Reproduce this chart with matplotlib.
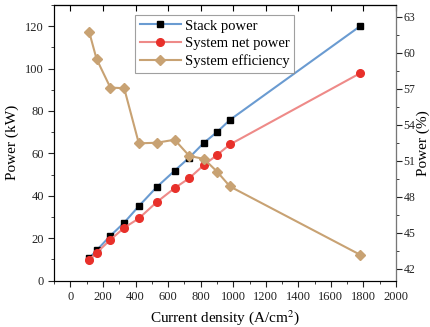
import matplotlib.pyplot as plt
from matplotlib.ticker import MultipleLocator

plt.rcParams['font.family'] = ['Liberation Serif', 'DejaVu Serif']
plt.rcParams['mathtext.fontset'] = 'stix'

current = [115, 160, 245, 330, 420, 530, 640, 730, 820, 900, 980, 1780]
stack_power = [10.5, 14.2, 21.1, 27.3, 35.1, 44.1, 51.8, 58.0, 65.0, 70.0, 75.8, 120.0]
net_power = [9.8, 13.1, 19.2, 24.9, 29.3, 37.0, 43.6, 48.3, 54.5, 59.2, 64.2, 97.8]
efficiency = [61.75, 59.5, 57.1, 57.05, 52.45, 52.5, 52.75, 51.4, 51.15, 50.1, 48.85, 43.15]

fig = plt.figure(figsize=(4.3, 3.27), dpi=100)
ax = fig.add_axes([0.126, 0.142, 0.795, 0.843])
ax2 = ax.twinx()

l1, = ax.plot(current, stack_power, color='#6a9bd1', lw=1.5, marker='s', ms=5,
              mfc='black', mec='black', label='Stack power')
l2, = ax.plot(current, net_power, color='#ee8a88', lw=1.5, marker='o', ms=5.5,
              mfc='#e8302a', mec='#e8302a', label='System net power')
l3, = ax2.plot(current, efficiency, color='#c8a273', lw=1.5, marker='D', ms=5,
               mfc='#c8a273', mec='#c8a273', label='System efficiency')

ax.set_xlim(-100, 2000)
ax.set_ylim(0, 130)
ax2.set_ylim(41, 64)

ax.xaxis.set_major_locator(MultipleLocator(200))
ax.xaxis.set_minor_locator(MultipleLocator(100))
ax.yaxis.set_major_locator(MultipleLocator(20))
ax.yaxis.set_minor_locator(MultipleLocator(10))
ax2.yaxis.set_major_locator(MultipleLocator(3))
ax2.yaxis.set_minor_locator(MultipleLocator(1.5))

ax.tick_params(which='both', direction='out', labelsize=9, colors='#222222')
ax.tick_params(which='major', length=4)
ax.tick_params(which='minor', length=2)
ax2.tick_params(which='both', direction='out', labelsize=8.5, colors='#222222', pad=1.5)
ax2.tick_params(which='major', length=4)
ax2.tick_params(which='minor', length=2)

top = ax.secondary_xaxis('top')
top.xaxis.set_major_locator(MultipleLocator(200))
top.tick_params(direction='in', length=4, labeltop=False)

for s in ['left', 'bottom', 'top']:
    ax.spines[s].set_color('#222222')
ax2.spines['right'].set_color('#777777')

ax.set_xlabel('Current density (A/cm$^2$)', fontsize=11)
ax.set_ylabel('Power (kW)', fontsize=11)
ax2.set_ylabel('Power (%)', fontsize=11, labelpad=0.5)

leg = ax.legend(handles=[l1, l2, l3], loc='upper center', bbox_to_anchor=(0.47, 0.99),
                fontsize=10.5, frameon=True, fancybox=False, edgecolor='#888888',
                handlelength=2.8, borderpad=0.3, labelspacing=0.3, handletextpad=0.3)
leg.get_frame().set_linewidth(0.8)

fig.savefig('out.png', dpi=100)
